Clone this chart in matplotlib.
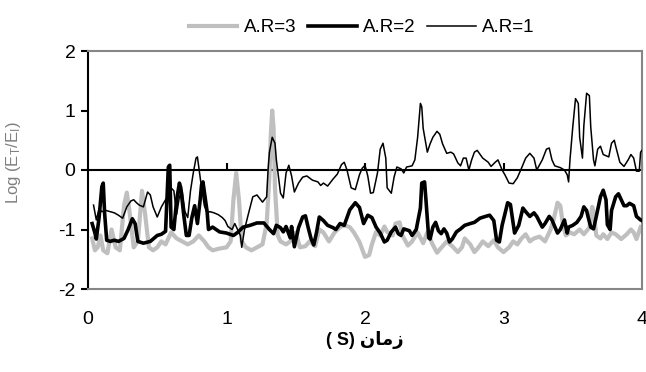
"""
plot.py — Log energy ratio vs time for three aspect ratios (A.R=1,2,3).
"""

import matplotlib
matplotlib.use("Agg")
import matplotlib.pyplot as plt

# ─────────────────────────────────────────────────────────── data ──────────

t_ar1 = [0.04, 0.06, 0.08, 0.10, 0.13, 0.16, 0.19, 0.22, 0.25, 0.28, 0.31, 0.33,
         0.35, 0.37, 0.40, 0.42, 0.43, 0.45, 0.47, 0.50, 0.53, 0.56, 0.58, 0.60,
         0.62, 0.64, 0.66, 0.68, 0.70, 0.72, 0.74, 0.76, 0.78, 0.79, 0.80, 0.82,
         0.84, 0.86, 0.88, 0.91, 0.94, 0.97, 0.99, 1.01, 1.04, 1.06, 1.08, 1.10,
         1.11, 1.13, 1.16, 1.19, 1.22, 1.26, 1.29, 1.30, 1.31, 1.33, 1.35, 1.36,
         1.38, 1.39, 1.41, 1.43, 1.45, 1.47, 1.49, 1.52, 1.55, 1.58, 1.62, 1.66,
         1.68, 1.70, 1.73, 1.77, 1.80, 1.83, 1.85, 1.87, 1.90, 1.93, 1.96, 1.98,
         2.00, 2.02, 2.04, 2.06, 2.09, 2.11, 2.13, 2.15, 2.16, 2.19, 2.21, 2.23,
         2.26, 2.28, 2.30, 2.34, 2.36, 2.38, 2.40, 2.41, 2.42, 2.45, 2.47, 2.49,
         2.52, 2.54, 2.56, 2.59, 2.62, 2.64, 2.67, 2.69, 2.71, 2.73, 2.75, 2.77,
         2.79, 2.81, 2.85, 2.89, 2.91, 2.94, 2.96, 2.99, 3.01, 3.04, 3.07, 3.10,
         3.13, 3.16, 3.19, 3.22, 3.24, 3.28, 3.31, 3.33, 3.35, 3.37, 3.41, 3.44,
         3.46, 3.47, 3.48, 3.50, 3.52, 3.54, 3.55, 3.57, 3.58, 3.60, 3.62, 3.63,
         3.65, 3.66, 3.68, 3.70, 3.72, 3.76, 3.78, 3.80, 3.81, 3.84, 3.87, 3.90,
         3.92, 3.94, 3.96, 3.98, 3.99, 4.00]
y_ar1 = [-0.59, -0.84, -0.65, -0.70, -0.68, -0.70, -0.72, -0.76, -0.81, -0.62, -0.52, -0.50,
         -0.55, -0.59, -0.62, -0.45, -0.37, -0.42, -0.62, -0.79, -0.62, -0.50, -0.45, -0.30,
         -0.35, -0.75, -0.45, -0.35, -0.70, -0.80, -0.35, -0.05, 0.20, 0.22, 0.05, -0.30,
         -0.60, -0.72, -0.70, -0.72, -0.75, -0.80, -0.85, -0.95, -1.00, -0.90, -1.00, -1.10,
         -1.30, -1.00, -0.72, -0.45, -0.42, -0.54, -0.45, 0.00, 0.30, 0.55, 0.45, 0.17,
         -0.20, -0.39, -0.47, -0.05, 0.08, -0.10, -0.37, -0.22, -0.12, -0.10, -0.17, -0.20,
         -0.26, -0.22, -0.27, -0.15, -0.07, 0.09, 0.13, 0.00, -0.30, -0.33, -0.08, 0.03,
         0.08, -0.10, -0.39, -0.38, -0.05, 0.35, 0.45, 0.20, -0.30, -0.39, -0.12, 0.05,
         0.02, -0.05, 0.05, 0.07, 0.17, 0.55, 1.12, 1.06, 0.70, 0.30, 0.44, 0.55,
         0.65, 0.60, 0.44, 0.28, 0.30, 0.27, 0.12, 0.07, 0.20, 0.20, 0.00, 0.17,
         0.30, 0.33, 0.20, 0.13, 0.06, 0.13, 0.17, 0.00, -0.08, -0.22, -0.23, -0.13,
         0.03, 0.20, 0.28, 0.20, 0.00, 0.17, 0.35, 0.37, 0.17, 0.07, 0.04, 0.00,
         -0.08, -0.20, 0.17, 0.72, 1.20, 1.12, 0.55, 0.20, 0.74, 1.29, 1.25, 0.72,
         0.17, 0.07, 0.35, 0.40, 0.26, 0.22, 0.45, 0.50, 0.40, 0.13, 0.06, 0.17,
         0.26, 0.20, -0.02, -0.02, 0.30, 0.33]

t_ar2 = [0.03, 0.05, 0.06, 0.08, 0.10, 0.11, 0.12, 0.135, 0.16, 0.19, 0.22, 0.26,
         0.29, 0.32, 0.34, 0.36, 0.40, 0.45, 0.50, 0.53, 0.56, 0.58, 0.59, 0.60,
         0.62, 0.64, 0.66, 0.67, 0.69, 0.71, 0.73, 0.75, 0.77, 0.79, 0.81, 0.82,
         0.83, 0.86, 0.87, 0.90, 0.95, 1.00, 1.05, 1.08, 1.12, 1.17, 1.22, 1.27,
         1.31, 1.34, 1.36, 1.39, 1.41, 1.43, 1.46, 1.47, 1.49, 1.52, 1.55, 1.57,
         1.59, 1.61, 1.63, 1.65, 1.67, 1.70, 1.73, 1.77, 1.79, 1.82, 1.85, 1.89,
         1.93, 1.96, 1.99, 2.02, 2.05, 2.08, 2.11, 2.14, 2.16, 2.19, 2.22, 2.24,
         2.26, 2.28, 2.32, 2.34, 2.37, 2.40, 2.41, 2.43, 2.44, 2.46, 2.47, 2.49,
         2.51, 2.53, 2.55, 2.57, 2.59, 2.61, 2.63, 2.66, 2.69, 2.72, 2.76, 2.79,
         2.83, 2.87, 2.90, 2.93, 2.95, 2.97, 2.99, 3.03, 3.05, 3.07, 3.08, 3.11,
         3.14, 3.16, 3.19, 3.22, 3.24, 3.28, 3.30, 3.33, 3.35, 3.39, 3.41, 3.44,
         3.46, 3.47, 3.50, 3.53, 3.56, 3.58, 3.60, 3.61, 3.63, 3.65, 3.67, 3.70,
         3.72, 3.74, 3.75, 3.77, 3.78, 3.81, 3.83, 3.85, 3.87, 3.89, 3.91, 3.94,
         3.96, 3.99, 4.00]
y_ar2 = [-0.90, -1.06, -1.16, -0.80, -0.28, -0.22, -0.73, -1.18, -1.20, -1.18, -1.20, -1.15,
         -1.00, -0.82, -0.90, -1.20, -1.23, -1.20, -1.10, -1.08, -1.03, 0.05, 0.08, -0.96,
         -1.00, -0.50, -0.22, -0.30, -0.73, -1.10, -1.10, -0.80, -0.60, -0.90, -0.50, -0.25,
         -0.20, -0.70, -1.00, -0.96, -1.04, -1.06, -1.10, -1.05, -0.96, -0.93, -0.89, -0.89,
         -1.00, -1.07, -0.93, -0.97, -1.04, -0.95, -1.14, -0.95, -1.29, -0.97, -0.79, -0.77,
         -0.97, -1.15, -1.26, -1.05, -0.79, -0.85, -0.93, -0.97, -1.00, -0.90, -0.93, -0.67,
         -0.55, -0.63, -0.90, -0.76, -0.80, -0.96, -1.06, -1.21, -1.18, -1.04, -0.96, -1.07,
         -1.10, -0.99, -1.02, -1.10, -1.00, -0.64, -0.22, -0.20, -0.50, -1.14, -1.16, -0.96,
         -0.88, -1.02, -1.07, -0.99, -1.06, -1.21, -1.16, -1.04, -0.99, -0.93, -0.90, -0.88,
         -0.81, -0.78, -0.76, -0.85, -1.18, -1.21, -0.93, -0.55, -0.58, -0.90, -1.06, -0.93,
         -0.64, -0.70, -0.78, -0.72, -0.78, -0.96, -0.90, -0.78, -0.84, -1.06, -1.00, -0.84,
         -1.06, -0.96, -0.93, -0.88, -0.78, -0.62, -0.68, -0.78, -0.96, -0.99, -0.78, -0.45,
         -0.34, -0.50, -0.92, -1.00, -0.68, -0.45, -0.40, -0.50, -0.60, -0.60, -0.56, -0.60,
         -0.78, -0.84, -0.85]

t_ar3 = [0.03, 0.05, 0.07, 0.09, 0.11, 0.14, 0.17, 0.20, 0.23, 0.26, 0.28, 0.30,
         0.33, 0.36, 0.39, 0.41, 0.44, 0.47, 0.50, 0.53, 0.56, 0.60, 0.64, 0.68,
         0.72, 0.76, 0.80, 0.84, 0.87, 0.90, 0.95, 1.00, 1.03, 1.05, 1.07, 1.09,
         1.11, 1.14, 1.18, 1.22, 1.26, 1.29, 1.31, 1.32, 1.33, 1.34, 1.35, 1.37,
         1.39, 1.43, 1.46, 1.50, 1.53, 1.57, 1.60, 1.64, 1.67, 1.70, 1.74, 1.78,
         1.82, 1.85, 1.89, 1.92, 1.96, 2.00, 2.03, 2.05, 2.08, 2.11, 2.14, 2.16,
         2.20, 2.22, 2.25, 2.27, 2.31, 2.34, 2.38, 2.42, 2.45, 2.49, 2.52, 2.56,
         2.59, 2.63, 2.67, 2.70, 2.72, 2.76, 2.79, 2.82, 2.85, 2.89, 2.93, 2.96,
         3.00, 3.04, 3.07, 3.10, 3.13, 3.16, 3.19, 3.22, 3.26, 3.30, 3.34, 3.36,
         3.39, 3.41, 3.43, 3.45, 3.48, 3.51, 3.55, 3.58, 3.62, 3.64, 3.65, 3.67,
         3.70, 3.72, 3.75, 3.78, 3.81, 3.85, 3.89, 3.92, 3.94, 3.96, 3.99]
y_ar3 = [-1.15, -1.35, -1.30, -1.10, -1.35, -1.40, -1.00, -1.30, -1.35, -0.60, -0.38, -0.70,
         -1.30, -1.20, -0.35, -0.70, -1.30, -1.35, -1.30, -1.20, -1.25, -1.05, -1.15, -1.20,
         -1.25, -1.20, -1.10, -1.20, -1.30, -1.35, -1.32, -1.30, -1.20, -0.50, -0.05, -0.50,
         -1.20, -1.30, -1.35, -1.30, -1.25, -0.90, -0.10, 0.60, 1.00, 0.70, -0.30, -1.10,
         -1.20, -1.25, -1.20, -1.05, -1.30, -1.28, -1.20, -1.28, -1.00, -1.05, -1.20, -1.05,
         -0.96, -0.93, -0.96, -1.05, -1.21, -1.46, -1.43, -1.25, -1.04, -1.10, -0.95, -1.04,
         -1.10, -0.90, -0.88, -1.10, -1.27, -1.20, -1.05, -1.23, -1.05, -1.26, -1.39, -1.28,
         -1.20, -1.28, -1.38, -1.30, -1.15, -1.25, -1.38, -1.30, -1.20, -1.28, -1.18, -1.30,
         -1.38, -1.30, -1.20, -1.25, -1.15, -1.08, -1.20, -1.15, -1.12, -1.20, -1.00, -0.85,
         -0.55, -0.60, -0.93, -1.10, -1.05, -1.08, -1.00, -1.08, -0.97, -0.62, -0.70, -1.10,
         -1.15, -1.08, -1.16, -1.05, -1.08, -1.16, -1.08, -1.00, -1.05, -1.16, -0.96]

x_ticks = [0, 1, 2, 3, 4]
y_ticks = [-2, -1, 0, 1, 2]

# Arabic "زمان" in presentation forms, visual (left-to-right) order
x_title = "( S) " + "\uFEE5\uFE8E\uFEE3\uFEAF"
y_title = "Log (E$_T$/E$_I$)"

GRAY_LINE = "#bfbfbf"
FRAME_GRAY = "#868686"

# ─────────────────────────────────────────────────────────── plot ──────────

plt.rcParams["font.family"] = ["Liberation Sans", "DejaVu Sans"]
plt.rcParams["mathtext.default"] = "regular"

fig = plt.figure(figsize=(6.46, 3.72), dpi=100)
ax = fig.add_axes([88 / 646, 1 - 289 / 372, 554 / 646, 238 / 372])

ax.plot(t_ar3, y_ar3, color=GRAY_LINE, lw=3.0, label="A.R=3", zorder=2)
ax.plot(t_ar2, y_ar2, color="black", lw=2.6, label="A.R=2", zorder=3)
ax.plot(t_ar1, y_ar1, color="black", lw=1.1, label="A.R=1", zorder=4)

ax.set_xlim(0, 4)
ax.set_ylim(-2, 2)

# frame: black value axis on the left, grey border elsewhere
ax.spines["left"].set_color("black")
ax.spines["left"].set_linewidth(1.5)
for side in ("top", "right", "bottom"):
    ax.spines[side].set_color(FRAME_GRAY)
    ax.spines[side].set_linewidth(1.5)

ax.set_yticks(y_ticks)
ax.set_yticklabels([str(v) for v in y_ticks])
ax.tick_params(axis="y", direction="out", length=5, width=1.5,
               labelsize=14, pad=4)

ax.set_xticks(x_ticks)
ax.set_xticklabels([str(v) for v in x_ticks])
ax.tick_params(axis="x", length=0, labelsize=14, pad=16)

# category axis crossing at y = 0, tick marks pointing up, no labels
zero_axis = ax.secondary_xaxis(0.5)
zero_axis.xaxis.set_ticks_position("bottom")
zero_axis.set_xticks(x_ticks[1:])
zero_axis.set_xticklabels([])
zero_axis.tick_params(direction="in", length=5, width=1.5,
                      labelbottom=False, labeltop=False)
for side in zero_axis.spines:
    zero_axis.spines[side].set_linewidth(1.5)
    zero_axis.spines[side].set_color("black")

ax.set_ylabel(y_title, fontsize=12, color="#808080")
ax.yaxis.set_label_coords(-0.117, 0.53)

ax.set_xlabel(x_title, fontsize=13, fontweight="bold", labelpad=2)

fig.legend(loc="center", bbox_to_anchor=(0.56, 0.925), ncol=3,
           frameon=False, fontsize=13.5, handlelength=2.6, handletextpad=0.35,
           columnspacing=0.6)

fig.savefig("out.png", dpi=100)
